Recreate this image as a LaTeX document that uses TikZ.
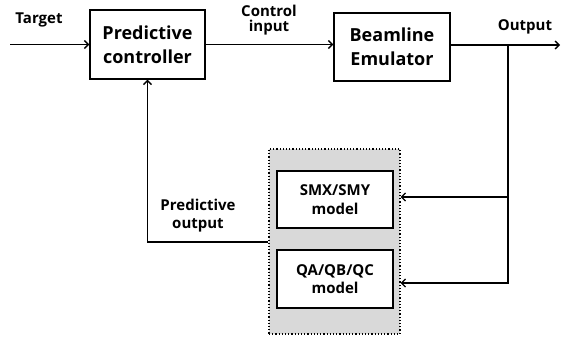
\documentclass[tikz,border=0pt]{standalone}
\usepackage{fontspec}
\setmainfont{Open Sans}
\usetikzlibrary{arrows.meta}
\begin{document}
\begin{tikzpicture}[x=1pt,y=-1pt,
  line width=1.3pt,
  >={Straight Barb[length=4pt,width=8pt,line width=1.3pt]},
  blockbox/.style={draw,line width=1.4pt,fill=white,minimum width=#1,align=center,inner sep=0pt,font=\bfseries\fontsize{18}{24}\selectfont},
  modelbox/.style={draw,line width=1.8pt,fill=white,minimum width=116pt,align=center,inner sep=0pt,font=\bfseries\fontsize{15}{18.5}\selectfont},
  lbl/.style={font=\bfseries\fontsize{15}{14.5}\selectfont,align=center,inner sep=0pt}]
\useasboundingbox (0,0) rectangle (561,338);
% main blocks
\node[blockbox=115pt,minimum height=69pt] (ctrl) at (147.5,44.5) {Predictive\\controller};
\node[blockbox=116pt,minimum height=68pt] (beam) at (392,47) {Beamline\\Emulator};
% model group
\node[draw,dotted,line width=1.2pt,fill=black!15,minimum width=131pt,minimum height=185pt,inner sep=0pt] (grp) at (334.5,241.5) {};
\node[modelbox,minimum height=57pt] (smx) at (335,199.5) {SMX/SMY\\model};
\node[modelbox,minimum height=58pt] (qa) at (335,279) {QA/QB/QC\\model};
% signal path
\coordinate (tin) at (10,44.5);
\coordinate (tap) at (508,45);
\coordinate (out) at (560,45);
\coordinate (pbend) at (147.5,242);
\draw[->] (tin) -- (ctrl.west);
\draw[->] (ctrl.east |- 0,44.5) -- (beam.west |- 0,44.5);
\draw[->] (beam.east |- tap) -- (out);
\draw[->] (tap) |- (grp.east |- 0,197);
\draw[->] (tap) |- (grp.east |- 0,283);
\draw[->] (grp.west |- pbend) -- (pbend) -- (ctrl.south);
% labels
\node[lbl] (ltarget) at (39,20) {Target};
\node[lbl] (lctrl) at (269,20) {Control\\input};
\node[lbl] (lout) at (525,27) {Output};
\node[lbl,font=\bfseries\fontsize{15}{18}\selectfont] (lpred) at (198,216) {Predictive\\output};
\end{tikzpicture}
\end{document}
